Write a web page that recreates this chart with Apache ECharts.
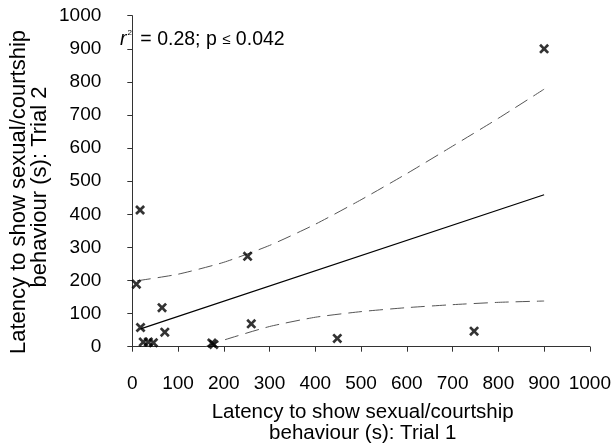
<!DOCTYPE html>
<html>
<head>
<meta charset="utf-8">
<script src="https://cdn.jsdelivr.net/npm/echarts@6/dist/echarts.min.js"></script>
<style>
html,body{margin:0;padding:0;background:#fff;}
#chart{width:614px;height:444px;}
</style>
</head>
<body>
<div id="chart"></div>
<script>
// Scatter data: latency Trial 1 (x) vs Trial 2 (y), seconds
var trial1 = [9, 17, 18, 24, 35, 46, 65, 71, 174, 178, 252, 260, 448, 747, 900];
var trial2 = [189, 413, 58, 14, 14, 12, 118, 44, 11, 7, 273, 69, 25, 47, 900];
// Regression line endpoints
var fitX = [18, 900];
var fitY = [54, 459];
// Upper 95% confidence band
var upperX = [10, 100, 200, 300, 400, 500, 600, 700, 800, 900];
var upperY = [199, 219, 255, 306, 370, 444, 523, 606, 690, 778];
// Lower 95% confidence band
var lowerX = [160, 200, 300, 400, 500, 600, 700, 800, 900];
var lowerY = [0, 20, 61, 89, 106, 118, 127, 134, 138];
// Axis ticks
var tickMin = 0, tickMax = 1000, tickStep = 100;

function zip(a, b) { return a.map(function (v, i) { return [v, b[i]]; }); }

var FONT = '"Liberation Sans", Arial, Helvetica, sans-serif';
var crossPath = 'path://M0,1.9L1.9,0L5,3.1L8.1,0L10,1.9L6.9,5L10,8.1L8.1,10L5,6.9L1.9,10L0,8.1L3.1,5Z';

var chart = echarts.init(document.getElementById('chart'), null, {renderer: 'canvas'});
chart.setOption({
  animation: false,
  backgroundColor: '#ffffff',
  grid: {left: 132.3, right: 22, top: 15.7, bottom: 97.3, containLabel: false},
  xAxis: {
    type: 'value', min: tickMin, max: tickMax, interval: tickStep,
    offset: 17.5,
    axisLine: {show: true, lineStyle: {color: '#333', width: 1}},
    axisTick: {show: true, inside: false, length: 5, lineStyle: {color: '#333'}},
    splitLine: {show: false},
    axisLabel: {color: '#000', fontSize: 19, fontFamily: FONT, margin: 10,
      formatter: function (v) { return String(v); }}
  },
  yAxis: {
    type: 'value', min: tickMin, max: tickMax, interval: tickStep,
    offset: 22,
    axisLine: {show: true, lineStyle: {color: '#333', width: 1}},
    axisTick: {show: true, inside: false, length: 5, lineStyle: {color: '#333'}},
    splitLine: {show: false},
    axisLabel: {color: '#000', fontSize: 19, fontFamily: FONT, margin: 9,
      formatter: function (v) { return String(v); }}
  },
  series: [
    {
      type: 'line', data: zip(upperX, upperY), smooth: 0.2,
      symbol: 'none', lineStyle: {color: '#555', width: 1, type: [14, 7]}, z: 2
    },
    {
      type: 'line', data: zip(lowerX, lowerY), smooth: 0.2,
      symbol: 'none', lineStyle: {color: '#555', width: 1, type: [14, 7]}, z: 2
    },
    {
      type: 'line', data: zip(fitX, fitY), symbol: 'none',
      lineStyle: {color: '#000', width: 1.2}, z: 3
    },
    {
      type: 'scatter', data: zip(trial1, trial2), symbol: crossPath, symbolSize: 10,
      itemStyle: {color: '#000'}, z: 4
    }
  ],
  graphic: [
    {
      type: 'text', x: 120, y: 40,
      style: {
        text: '{r|r}{s|2}{n| = 0.28; p }{le|≤}{n| 0.042}',
        align: 'left', verticalAlign: 'middle',
        rich: {
          r: {fontFamily: FONT, fontSize: 19.5, fontStyle: 'italic', fill: '#000', lineHeight: 22},
          s: {fontFamily: FONT, fontSize: 8, fill: '#000', verticalAlign: 'top', lineHeight: 22, padding: [0, 3, 0, 1]},
          n: {fontFamily: FONT, fontSize: 19.5, fill: '#000', lineHeight: 22},
          le: {fontFamily: FONT, fontSize: 15, fill: '#000', lineHeight: 22}
        }
      }
    },
    {
      type: 'text', x: 362.7, y: 412.5,
      style: {text: 'Latency to show sexual/courtship', fill: '#000', font: '20.5px ' + FONT, align: 'center', verticalAlign: 'middle'}
    },
    {
      type: 'text', x: 362.7, y: 433.5,
      style: {text: 'behaviour (s): Trial 1', fill: '#000', font: '20.5px ' + FONT, align: 'center', verticalAlign: 'middle'}
    },
    {
      type: 'text', x: 19, y: 192, rotation: Math.PI / 2,
      style: {text: 'Latency to show sexual/courtship', fill: '#000', font: '22px ' + FONT, align: 'center', verticalAlign: 'middle'}
    },
    {
      type: 'text', x: 40, y: 187, rotation: Math.PI / 2,
      style: {text: 'behaviour (s): Trial 2', fill: '#000', font: '22px ' + FONT, align: 'center', verticalAlign: 'middle'}
    }
  ]
});
</script>
</body>
</html>
